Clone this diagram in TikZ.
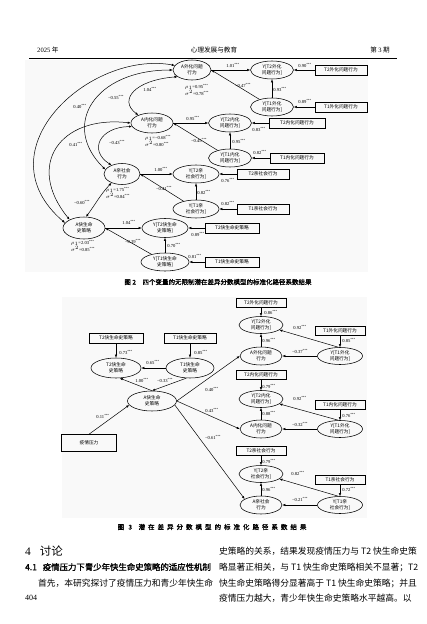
\documentclass[tikz,border=0pt]{standalone}
\usepackage{fontspec}
\setmainfont{Noto Sans CJK SC}
\newfontfamily\numf{Liberation Serif}
\newfontfamily\capf{Noto Sans CJK SC}[FakeBold=1.6]
\usetikzlibrary{shapes.geometric,arrows.meta}
\newcommand\lblf{\fontsize{4.7}{5.7}\selectfont}
\newcommand\cff{\numf\fontsize{4.6}{5.4}\selectfont}
\newcommand\coef[1]{#1\textsuperscript{***}}
\newcommand\hdf{\fontsize{6.6}{7}\selectfont}
\newcommand\bodyf{\fontsize{8.75}{10}\selectfont}
\tikzset{
  lat/.style={ellipse, draw, line width=0.55pt, inner sep=0pt, minimum width=#1,
    minimum height=18pt, align=center, font=\lblf},
  lat/.default=42pt,
  obs/.style={rectangle, draw, line width=0.55pt, inner sep=0pt, minimum width=#1,
    minimum height=10pt, font=\lblf},
  obs/.default=52pt,
  pth/.style={-{Latex[length=3pt,width=2.4pt]}, line width=0.5pt},
  cov/.style={{Latex[length=3pt,width=2.4pt]}-{Latex[length=3pt,width=2.4pt]}, line width=0.5pt},
  cf/.style={font=\cff, inner sep=0pt},
  rs/.style={font=\cff, inner sep=0pt, align=left},
  txt/.style={inner sep=0pt, anchor=west},
}
\begin{document}
\begin{tikzpicture}[x=1pt,y=-1pt]
\useasboundingbox (0,0) rectangle (427,624);
\fill[white] (0,0) rectangle (427,624);
\fill[black!2.5] (25,60) rectangle (368,272);
\fill[black!2.5] (62,297) rectangle (367,518);

% ---------- header ----------
\node[txt] (h1) at (37,50) {\hdf{\numf 2025} 年};
\node[inner sep=0pt] (h2) at (214,50) {\hdf 心理发展与教育};
\node[inner sep=0pt, anchor=east] (h3) at (390,50) {\hdf 第 {\numf 3} 期};
\draw[line width=0.7pt] (29,58) -- (397,58);

% ---------- figure 2 (top) ----------
% externalizing
\node[lat=38pt,minimum height=20pt] (fA1) at (192,70) {A外化问题\\行为};
\node[lat=43pt] (fY2a) at (272,70) {Y[T2外化\\问题行为]};
\node[lat=43pt] (fY1a) at (272,107) {Y[T1外化\\问题行为]};
\node[obs] (fB2a) at (341,70) {T2外化问题行为};
\node[obs] (fB1a) at (341,107) {T1外化问题行为};
\draw[pth] (fA1.east) -- (fY2a);
\draw[pth] (fY1a) -- (fA1.east);
\draw[pth] (fY1a) -- (fY2a);
\draw[pth] (fB2a) -- (fY2a);
\draw[pth] (fB1a) -- (fY1a);
\node[cf] (fc1) at (233,65) {\coef{1.01}};
\node[cf] (fc2) at (305,65) {\coef{0.90}};
\node[cf] (fc3) at (243,85) {\coef{−0.47}};
\node[cf] (fc4) at (280,89) {\coef{0.93}};
\node[cf] (fc5) at (305,101) {\coef{0.89}};
\node[rs] (fr1) at (197,90) {$\rho_1$=\coef{0.95}\\$\sigma^2$=\coef{0.78}};

% internalizing
\node[lat=42pt,minimum height=20pt] (fA2) at (152,123) {A内化问题\\行为};
\node[lat=43pt] (fY2b) at (230,123) {Y[T2内化\\问题行为]};
\node[lat=43pt] (fY1b) at (230,158) {Y[T1内化\\问题行为]};
\node[obs=56pt] (fB2b) at (297,123) {T2内化问题行为};
\node[obs=54pt] (fB1b) at (297,158) {T1内化问题行为};
\draw[pth] (fA2.east) -- (fY2b);
\draw[pth] (fY1b) -- (fA2.east);
\draw[pth] (fY1b) -- (fY2b);
\draw[pth] (fB2b) -- (fY2b);
\draw[pth] (fB1b) -- (fY1b);
\node[cf] (fc6) at (193,118) {\coef{0.95}};
\node[cf] (fc7) at (259,129) {\coef{0.83}};
\node[cf] (fc8) at (199,140) {\coef{−0.45}};
\node[cf] (fc9) at (239,141) {\coef{0.95}};
\node[cf] (fc10) at (260,152) {\coef{0.82}};
\node[rs] (fr2) at (158,141) {$\rho_1$=\coef{−0.68}\\$\sigma^2$=\coef{0.80}};

% prosocial
\node[lat=36pt,minimum height=21pt] (fA3) at (122,174) {A亲社会\\行为};
\node[lat=46pt] (fY2c) at (196,174) {Y[T2亲\\社会行为]};
\node[lat=46pt] (fY1c) at (196,209) {Y[T1亲\\社会行为]};
\node[obs] (fB2c) at (263,174) {T2亲社会行为};
\node[obs] (fB1c) at (263,209) {T1亲社会行为};
\draw[pth] (fA3.east) -- (fY2c);
\draw[pth] (fY1c) -- (fA3.east);
\draw[pth] (fY1c) -- (fY2c);
\draw[pth] (fB2c) -- (fY2c);
\draw[pth] (fB1c) -- (fY1c);
\node[cf] (fc11) at (161,169) {\coef{1.00}};
\node[cf] (fc12) at (228,180) {\coef{0.76}};
\node[cf] (fc13) at (164,188) {\coef{−0.41}};
\node[cf] (fc14) at (204,192) {\coef{0.82}};
\node[cf] (fc15) at (228,203) {\coef{0.82}};
\node[rs] (fr3) at (118,193) {$\rho_1$=\coef{1.75}\\$\sigma^2$=\coef{0.84}};

% fast life history
\node[lat=42pt,minimum height=22pt] (fA4) at (84,228) {A快生命\\史策略};
\node[lat=46pt,minimum height=19pt] (fY2d) at (165,228) {Y[T2快生命\\史策略]};
\node[lat=48pt] (fY1d) at (165,262) {Y[T1快生命\\史策略]};
\node[obs=54pt] (fB2d) at (232,228) {T2快生命史策略};
\node[obs=54pt] (fB1d) at (232,262) {T1快生命史策略};
\draw[pth] (fA4.east) -- (fY2d);
\draw[pth] (fY1d) -- (fA4.east);
\draw[pth] (fY1d) -- (fY2d);
\draw[pth] (fB2d) -- (fY2d);
\draw[pth] (fB1d) -- (fY1d);
\node[cf] (fc16) at (129,222) {\coef{1.04}};
\node[cf] (fc17) at (198,234) {\coef{0.89}};
\node[cf] (fc18) at (133,241) {\coef{−0.39}};
\node[cf] (fc19) at (174,245) {\coef{0.70}};
\node[cf] (fc20) at (195,256) {\coef{0.81}};
\node[rs] (fr4) at (83,246) {$\rho_1$=\coef{2.03}\\$\sigma^2$=\coef{0.85}};

% covariances
\draw[cov] (fA1.165) .. controls (90,50) and (-20,150) .. (fA4.165);
\draw[cov] (fA1.180) .. controls (95,70) and (60,125) .. (fA3.165);
\draw[cov] (fA1.205) .. controls (135,80) and (118,100) .. (fA2.150);
\draw[cov] (fA2.180) .. controls (60,115) and (25,165) .. (fA4.150);
\draw[cov] (fA2.190) .. controls (100,127) and (88,150) .. (fA3.140);
\draw[cov] (fA3.220) .. controls (100,195) and (95,205) .. (fA4.80);
\node[cf] (fk1) at (80,106) {\coef{0.40}};
\node[cf] (fk2) at (116,97) {\coef{−0.55}};
\node[cf] (fk3) at (150,89) {\coef{1.04}};
\node[cf] (fk4) at (76,144) {\coef{0.41}};
\node[cf] (fk5) at (117,142) {\coef{−0.43}};
\node[cf] (fk6) at (82,202) {\coef{−0.60}};

\node[inner sep=0pt] (cap2) at (218,282) {\capf\fontsize{6.5}{7}\selectfont 图 2\quad 四个变量的无限制潜在差异分数模型的标准化路径系数结果};

% ---------- figure 3 (bottom) ----------
\node[obs=54pt] (gB2k) at (116,338) {T2快生命史策略};
\node[obs=52pt] (gB1k) at (190,338) {T1快生命史策略};
\node[lat=50pt,minimum height=20pt] (gY2k) at (116,368) {T2快生命\\史策略};
\node[lat=48pt,minimum height=20pt] (gY1k) at (190,368) {T1快生命\\史策略};
\node[lat=49pt,minimum height=20pt] (gAk) at (152,401) {A快生命\\史策略};
\node[obs=55pt,minimum height=17pt] (gP) at (89,443) {疫情压力};
\draw[pth] (gB2k) -- (gY2k);
\draw[pth] (gB1k) -- (gY1k);
\draw[pth] (gY1k) -- (gY2k);
\draw[pth] (gAk.north) -- (gY2k.-70);
\draw[pth] (gY1k.250) -- (gAk.north);
\draw[pth] (gP.north) -- (gAk.190);
\node[cf] (gc1) at (126,352) {\coef{0.73}};
\node[cf] (gc2) at (201,352) {\coef{0.85}};
\node[cf] (gc3) at (153,362) {\coef{0.65}};
\node[cf] (gc4) at (142,380) {\coef{1.00}};
\node[cf] (gc5) at (165,380) {\coef{−0.33}};
\node[cf] (gc6) at (103,416) {\coef{0.11}};

% externalizing cluster
\node[obs=50pt,minimum height=9pt] (gB2a) at (261,303) {T2外化问题行为};
\node[lat=44pt,minimum height=17pt] (gY2a) at (261,325) {Y[T2外化\\问题行为]};
\node[obs=50pt,minimum height=9pt] (gB1a) at (340,331) {T1外化问题行为};
\node[lat=42pt,minimum height=18pt] (gAa) at (261,356) {A外化问题\\行为};
\node[lat=45pt,minimum height=17pt] (gY1a) at (340,356) {Y[T1外化\\问题行为]};
\draw[pth] (gB2a) -- (gY2a);
\draw[pth] (gAa) -- (gY2a);
\draw[pth] (gY1a) -- (gAa);
\draw[pth] (gY1a.100) -- (gY2a.-15);
\draw[pth] (gB1a) -- (gY1a);
\node[cf] (ga1) at (271,312) {\coef{0.86}};
\node[cf] (ga2) at (300,327) {\coef{0.92}};
\node[cf] (ga3) at (349,340) {\coef{0.85}};
\node[cf] (ga4) at (269,340) {\coef{0.96}};
\node[cf] (ga5) at (300,351) {\coef{−0.37}};

% internalizing cluster
\node[obs=50pt,minimum height=9pt] (gB2b) at (261,375) {T2内化问题行为};
\node[lat=44pt,minimum height=17pt] (gY2b) at (261,399) {Y[T2内化\\问题行为]};
\node[obs=50pt,minimum height=9pt] (gB1b) at (340,405) {T1内化问题行为};
\node[lat=42pt,minimum height=18pt] (gAb) at (261,429) {A内化问题\\行为};
\node[lat=45pt,minimum height=17pt] (gY1b) at (340,429) {Y[T1外化\\问题行为]};
\draw[pth] (gB2b) -- (gY2b);
\draw[pth] (gAb) -- (gY2b);
\draw[pth] (gY1b) -- (gAb);
\draw[pth] (gY1b.100) -- (gY2b.-15);
\draw[pth] (gB1b) -- (gY1b);
\node[cf] (gb1) at (269,386) {\coef{0.79}};
\node[cf] (gb2) at (300,398) {\coef{0.92}};
\node[cf] (gb3) at (269,413) {\coef{0.88}};
\node[cf] (gb4) at (349,415) {\coef{0.76}};
\node[cf] (gb5) at (300,424) {\coef{−0.32}};

% prosocial cluster
\node[obs=50pt,minimum height=9pt] (gB2c) at (261,451) {T2亲社会行为};
\node[lat=44pt,minimum height=17pt] (gY2c) at (261,474) {Y[T2亲\\社会行为]};
\node[obs=50pt,minimum height=9pt] (gB1c) at (340,480) {T1亲社会行为};
\node[lat=42pt,minimum height=18pt] (gAc) at (261,505) {A亲社会\\行为};
\node[lat=45pt,minimum height=17pt] (gY1c) at (340,505) {Y[T1亲\\社会行为]};
\draw[pth] (gB2c) -- (gY2c);
\draw[pth] (gAc) -- (gY2c);
\draw[pth] (gY1c) -- (gAc);
\draw[pth] (gY1c.100) -- (gY2c.-15);
\draw[pth] (gB1c) -- (gY1c);
\node[cf] (gd1) at (269,461) {\coef{0.79}};
\node[cf] (gd2) at (298,473) {\coef{0.82}};
\node[cf] (gd3) at (349,489) {\coef{0.72}};
\node[cf] (gd4) at (269,489) {\coef{0.96}};
\node[cf] (gd5) at (300,499) {\coef{−0.21}};

% A fast -> A outcomes
\draw[pth] (gAk.east) -- (gAa.west);
\draw[pth] (gAk.east) -- (gAb.west);
\draw[pth] (gAk.-10) -- (gAc.160);
\node[cf] (ge1) at (212,389) {\coef{0.40}};
\node[cf] (ge2) at (212,410) {\coef{0.43}};
\node[cf] (ge3) at (213,437) {\coef{−0.61}};

\node[inner sep=0pt] (cap3) at (212,527) {\capf\fontsize{6.5}{7}\selectfont\addfontfeature{LetterSpace=46}图 3\quad 潜在差异分数模型的标准化路径系数结果};

% ---------- body text ----------
\node[txt] (s4) at (25,551) {\fontsize{11.5}{12}\selectfont{\numf 4}\hspace{9pt}讨论};
\node[txt] (s41) at (25,567) {\capf\fontsize{8.4}{10}\selectfont 4.1\hspace{6pt}疫情压力下青少年快生命史策略的适应性机制};
\node[txt] (l1) at (38,583) {\bodyf 首先，本研究探讨了疫情压力和青少年快生命};
\node[txt] (pg) at (25,598) {\numf\fontsize{8}{9}\selectfont 404};
\node[txt] (r1) at (219,551) {\bodyf 史策略的关系，结果发现疫情压力与 T2 快生命史策};
\node[txt] (r2) at (219,567) {\bodyf 略显著正相关，与 T1 快生命史策略相关不显著；T2};
\node[txt] (r3) at (219,583) {\bodyf 快生命史策略得分显著高于 T1 快生命史策略；并且};
\node[txt] (r4) at (219,598) {\bodyf 疫情压力越大，青少年快生命史策略水平越高。以};
\end{tikzpicture}
\end{document}
